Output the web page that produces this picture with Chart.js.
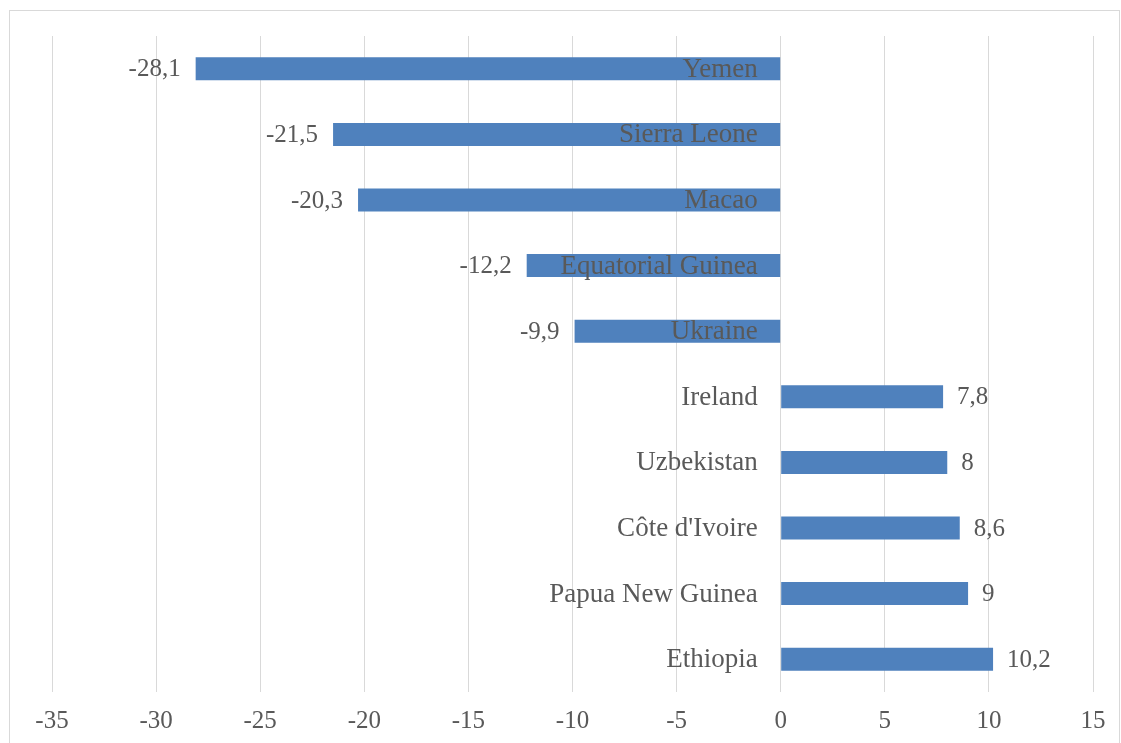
<!DOCTYPE html>
<html>
<head>
<meta charset="utf-8">
<script src="https://cdn.jsdelivr.net/npm/chart.js@4"></script>
<style>
html,body{margin:0;padding:0;background:#fff;}
#wrap{position:relative;width:1121px;height:743px;}
</style>
</head>
<body>
<div id="wrap"><canvas id="c" width="1121" height="743"></canvas></div>
<script>
const categories = ["Yemen","Sierra Leone","Macao","Equatorial Guinea","Ukraine","Ireland","Uzbekistan","Côte d'Ivoire","Papua New Guinea","Ethiopia"];
const values = [-28.1,-21.5,-20.3,-12.2,-9.9,7.8,8,8.6,9,10.2];
const valueLabels = ["-28,1","-21,5","-20,3","-12,2","-9,9","7,8","8","8,6","9","10,2"];
const xTicks = [-35,-30,-25,-20,-15,-10,-5,0,5,10,15];

const FONT = "'Liberation Serif', 'Times New Roman', serif";

const borderPlugin = {
  id: 'outerBorder',
  beforeDraw(chart) {
    const ctx = chart.ctx;
    ctx.save();
    ctx.strokeStyle = '#d9d9d9';
    ctx.lineWidth = 1;
    ctx.strokeRect(9.5, 10.5, 1110, 760);
    ctx.restore();
  }
};

const labelPlugin = {
  id: 'barLabels',
  afterDatasetsDraw(chart) {
    const ctx = chart.ctx;
    const meta = chart.getDatasetMeta(0);
    const xs = chart.scales.x;
    const zero = xs.getPixelForValue(0);
    ctx.save();
    ctx.textBaseline = 'middle';
    ctx.fillStyle = '#595959';
    meta.data.forEach((bar, i) => {
      const y = bar.y + 1;
      // category label
      ctx.font = "27px " + FONT;
      ctx.textAlign = 'right';
      ctx.fillText(categories[i], zero - 23, y);
      // value label
      ctx.font = "25px " + FONT;
      if (values[i] < 0) {
        ctx.textAlign = 'right';
        ctx.fillText(valueLabels[i], bar.x - 15, y);
      } else {
        ctx.textAlign = 'left';
        ctx.fillText(valueLabels[i], bar.x + 14, y);
      }
    });
    ctx.restore();
  }
};

new Chart(document.getElementById('c'), {
  type: 'bar',
  data: {
    labels: categories,
    datasets: [{
      data: values,
      backgroundColor: '#4f81bd',
      borderWidth: 0,
      barPercentage: 0.35,
      categoryPercentage: 1.0
    }]
  },
  options: {
    indexAxis: 'y',
    responsive: false,
    animation: false,
    layout: { padding: { left: 52, right: 28, top: 36, bottom: 0 } },
    plugins: { legend: { display: false }, tooltip: { enabled: false } },
    scales: {
      x: {
        type: 'linear',
        min: -35,
        max: 15,
        afterBuildTicks(axis) { axis.ticks = xTicks.map(v => ({ value: v })); },
        afterFit(axis) { axis.height = 51; },
        grid: { color: '#d9d9d9', drawTicks: false, lineWidth: 1 },
        border: { display: false },
        ticks: {
          padding: 14,
          color: '#595959',
          font: { family: FONT, size: 25 },
          maxRotation: 0,
          autoSkip: false
        }
      },
      y: { display: false }
    }
  },
  plugins: [borderPlugin, labelPlugin]
});
</script>
</body>
</html>
